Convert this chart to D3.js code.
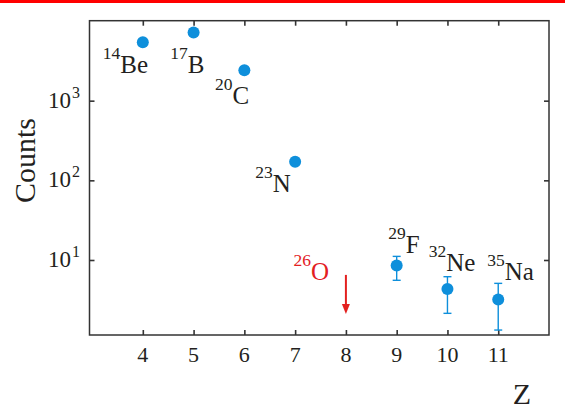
<!DOCTYPE html>
<html>
<head>
<meta charset="utf-8">
<script src="https://cdn.jsdelivr.net/npm/d3@7"></script>
<style>
    body { margin: 0; background: #fff; }
    svg { display: block; }
    text { font-family: "Liberation Serif", "DejaVu Serif", serif; fill: #231f20; }
</style>
</head>
<body>
<div id="chart"></div>
<script>
// Counts per isotope vs Z (log scale)

const zValues = [4, 5, 6, 7, 9, 10, 11];
const massNumbers = ['14', '17', '20', '23', '29', '32', '35'];
const symbols = ['Be', 'B', 'C', 'N', 'F', 'Ne', 'Na'];
const counts = [5400, 7150, 2410, 171, 8.5, 4.33, 3.2];
const errLow = [null, null, null, null, 5.56, 2.14, 1.32];
const errHigh = [null, null, null, null, 11.1, 6.17, 5.09];

// missing nucleus (upper limit arrow)
const missingZ = 8;
const missingMass = '26';
const missingSymbol = 'O';
const arrowFrom = 6.5;
const arrowTo = 2.1;

const xTicks = [4, 5, 6, 7, 8, 9, 10, 11];
const yTicks = [10, 100, 1000];
const yTickExp = ['1', '2', '3'];

const blue = '#0e8fdb';
const red = '#e3201f';
const ink = '#333';

const totalWidth = 565;
const totalHeight = 409;
const plot = { left: 89.5, right: 549, top: 20.7, bottom: 335 };

const svg = d3.select('#chart')
    .append('svg')
    .attr('width', totalWidth)
    .attr('height', totalHeight);

// red strip at the very top
svg.append('rect')
    .attr('x', 0).attr('y', 0)
    .attr('width', totalWidth).attr('height', 3)
    .style('fill', '#ff0000');

const x = d3.scaleLinear().domain([2.95, 12]).range([plot.left, plot.right]);
const y = d3.scaleLog().domain([1.144, 10090]).range([plot.bottom, plot.top]);

// frame
svg.append('rect')
    .attr('x', plot.left).attr('y', plot.top)
    .attr('width', plot.right - plot.left).attr('height', plot.bottom - plot.top)
    .style('fill', 'none')
    .style('stroke', ink)
    .style('stroke-width', 1.5);

// inward ticks on all four sides
const tickLen = 5;
svg.append('g')
    .attr('transform', `translate(0,${plot.bottom})`)
    .call(d3.axisTop(x).tickValues(xTicks).tickSize(tickLen).tickFormat(''))
    .call(g => g.select('.domain').remove());
svg.append('g')
    .attr('transform', `translate(0,${plot.top})`)
    .call(d3.axisBottom(x).tickValues(xTicks).tickSize(tickLen).tickFormat(''))
    .call(g => g.select('.domain').remove());
svg.append('g')
    .attr('transform', `translate(${plot.left},0)`)
    .call(d3.axisRight(y).tickValues(yTicks).tickSize(tickLen).tickFormat(''))
    .call(g => g.select('.domain').remove());
svg.append('g')
    .attr('transform', `translate(${plot.right},0)`)
    .call(d3.axisLeft(y).tickValues(yTicks).tickSize(tickLen).tickFormat(''))
    .call(g => g.select('.domain').remove());
svg.selectAll('.tick line').style('stroke', ink).style('stroke-width', 1.6);

// x tick labels
svg.append('g').selectAll('text')
    .data(xTicks)
    .enter()
    .append('text')
    .attr('x', d => x(d))
    .attr('y', plot.bottom + 27)
    .attr('text-anchor', 'middle')
    .style('font-size', '22px')
    .text(d => d);

// y tick labels 10^n
const yLab = svg.append('g').selectAll('text')
    .data(yTicks)
    .enter()
    .append('text')
    .attr('x', plot.left - 9.5)
    .attr('y', d => y(d) + 7)
    .attr('text-anchor', 'end')
    .style('font-size', '23px');
yLab.append('tspan').text('10');
yLab.append('tspan')
    .attr('dy', -10)
    .attr('dx', 1)
    .style('font-size', '16px')
    .text((d, i) => yTickExp[i]);

// axis titles
svg.append('text')
    .attr('transform', 'translate(35,160.5) rotate(-90)')
    .attr('text-anchor', 'middle')
    .style('font-size', '30px')
    .text('Counts');

svg.append('text')
    .attr('x', 522)
    .attr('y', 404)
    .attr('text-anchor', 'middle')
    .style('font-size', '30px')
    .text('Z');

// error bars
const points = zValues.map((z, i) => ({
    z, c: counts[i], lo: errLow[i], hi: errHigh[i], mass: massNumbers[i], sym: symbols[i]
}));
const bars = svg.append('g')
    .selectAll('g')
    .data(points.filter(d => d.lo !== null))
    .enter()
    .append('g')
    .style('stroke', blue)
    .style('stroke-width', 1.4);
bars.append('line')
    .attr('x1', d => x(d.z)).attr('x2', d => x(d.z))
    .attr('y1', d => y(d.hi)).attr('y2', d => y(d.lo));
bars.append('line')
    .attr('x1', d => x(d.z) - 4).attr('x2', d => x(d.z) + 4)
    .attr('y1', d => y(d.hi)).attr('y2', d => y(d.hi));
bars.append('line')
    .attr('x1', d => x(d.z) - 4).attr('x2', d => x(d.z) + 4)
    .attr('y1', d => y(d.lo)).attr('y2', d => y(d.lo));

// data points
svg.append('g')
    .selectAll('circle')
    .data(points)
    .enter()
    .append('circle')
    .attr('cx', d => x(d.z))
    .attr('cy', d => y(d.c))
    .attr('r', 6)
    .style('fill', blue);

// isotope labels, offset from their point
const labelOffsets = [[-40, 30.4], [-23.3, 40], [-29.3, 34], [-40, 30], [-8.4, -12.4], [-18.7, -18], [-11, -19.3]];

function isotopeLabel(sel, mass, sym, color) {
    sel.style('font-size', '25px').style('fill', color);
    sel.append('tspan')
        .attr('dy', -14)
        .style('font-size', '17.5px')
        .style('fill', color)
        .text(mass);
    sel.append('tspan')
        .attr('dy', 14)
        .style('fill', color)
        .text(sym);
}

points.forEach((d, i) => {
    const t = svg.append('text')
        .attr('x', x(d.z) + labelOffsets[i][0])
        .attr('y', y(d.c) + labelOffsets[i][1]);
    isotopeLabel(t, d.mass, d.sym, '#231f20');
});

// 26O: no events, arrow pointing down
const oLabel = svg.append('text')
    .attr('x', x(missingZ) - 52.3)
    .attr('y', y(arrowFrom) + 5);
isotopeLabel(oLabel, missingMass, missingSymbol, red);

svg.append('line')
    .attr('x1', x(missingZ)).attr('x2', x(missingZ))
    .attr('y1', y(arrowFrom)).attr('y2', y(arrowTo) - 8)
    .style('stroke', red)
    .style('stroke-width', 2);

svg.append('path')
    .attr('d', `M${x(missingZ) - 4},${y(arrowTo) - 10} L${x(missingZ) + 4},${y(arrowTo) - 10} L${x(missingZ)},${y(arrowTo)} Z`)
    .style('fill', red);
</script>
</body>
</html>
